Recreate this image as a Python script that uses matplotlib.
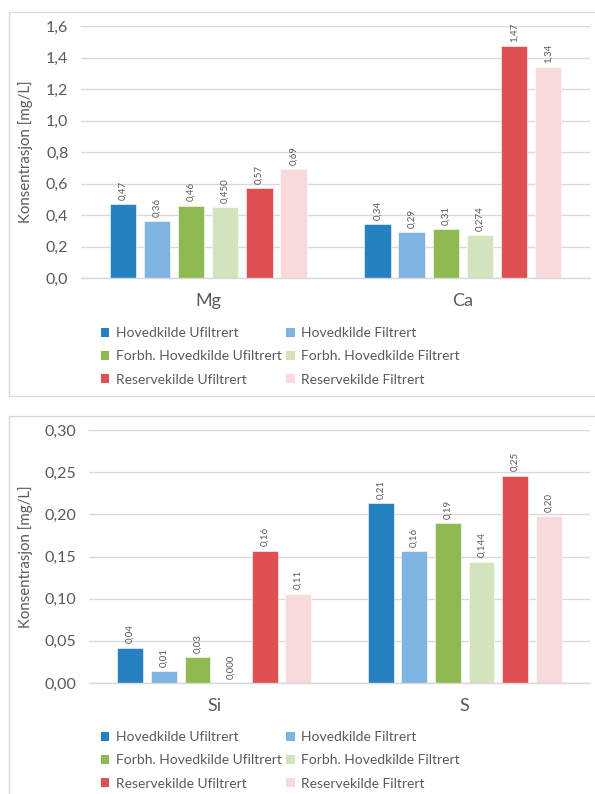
import matplotlib
matplotlib.use("Agg")
import matplotlib.pyplot as plt
from matplotlib.patches import Patch, Rectangle
from matplotlib.ticker import FuncFormatter, MultipleLocator

plt.rcParams['font.family'] = ['Lato', 'DejaVu Sans']

# Series (sampling points) and colours
series = ["Hovedkilde Ufiltrert", "Hovedkilde Filtrert",
          "Forbh. Hovedkilde Ufiltrert", "Forbh. Hovedkilde Filtrert",
          "Reservekilde Ufiltrert", "Reservekilde Filtrert"]
colors = ["#2581C0", "#7EB3E2", "#8FBA51", "#D3E4BC", "#DE5051", "#F8DADC"]

# Upper chart: Mg and Ca
elements_top = ["Mg", "Ca"]
mg_values = [0.47, 0.36, 0.46, 0.450, 0.57, 0.69]
ca_values = [0.34, 0.29, 0.31, 0.274, 1.47, 1.34]
mg_decimals = [2, 2, 2, 3, 2, 2]
ca_decimals = [2, 2, 2, 3, 2, 2]

# Lower chart: Si and S
elements_bottom = ["Si", "S"]
si_values = [0.042, 0.014, 0.031, 0.000, 0.157, 0.106]
s_values = [0.213, 0.156, 0.190, 0.144, 0.246, 0.198]
si_decimals = [2, 2, 2, 3, 2, 2]
s_decimals = [2, 2, 2, 3, 2, 2]

W, H = 595, 794
TEXT = "#595959"
GRID = "#D9D9D9"

fig = plt.figure(figsize=(W / 100, H / 100), dpi=100)


def fig_rect(x0, y0, x1, y1):
    return [x0 / W, 1 - y1 / H, (x1 - x0) / W, (y1 - y0) / H]


def comma(v, d):
    return f"{v:.{d}f}".replace(".", ",")


def draw_panel(rect, cats, data, decimals, ymax, ystep, ydec, box, legend_top):
    # chart frame
    fig.patches.append(Rectangle((box[0] / W, 1 - box[3] / H),
                                 (box[2] - box[0]) / W, (box[3] - box[1]) / H,
                                 transform=fig.transFigure, fill=False,
                                 edgecolor=GRID, linewidth=1.0, clip_on=False))
    ax = fig.add_axes(fig_rect(*rect))
    pitch, width = 0.134, 0.103
    n = len(series)
    for i in range(n):
        xs = [c + (i - (n - 1) / 2) * pitch for c in range(len(cats))]
        vals = [data[c][i] for c in range(len(cats))]
        bars = ax.bar(xs, vals, width=width, color=colors[i],
                      edgecolor="white", linewidth=0.4, zorder=3)
        for b, v, c in zip(bars, vals, range(len(cats))):
            ax.annotate(comma(v, decimals[c][i]),
                        (b.get_x() + b.get_width() / 2, v),
                        xytext=(0, 3), textcoords="offset points",
                        rotation=90, ha="center", va="bottom",
                        fontsize=7, color=TEXT)
    ax.set_xlim(-0.5, len(cats) - 0.5)
    ax.set_ylim(0, ymax)
    ax.yaxis.set_major_locator(MultipleLocator(ystep))
    ax.yaxis.set_major_formatter(FuncFormatter(lambda v, p: comma(v, ydec)))
    ax.set_xticks(range(len(cats)))
    ax.set_xticklabels(cats, fontsize=13, color=TEXT)
    ax.tick_params(axis="y", length=0, pad=9, labelsize=11.5, labelcolor=TEXT)
    ax.tick_params(axis="x", length=0, pad=11)
    ax.grid(axis="y", color=GRID, linewidth=1.0, zorder=0)
    for s in ["top", "right", "left"]:
        ax.spines[s].set_visible(False)
    ax.spines["bottom"].set_color(GRID)
    ax.spines["bottom"].set_linewidth(1.0)
    ax.spines["bottom"].set_zorder(4)
    ax.set_ylabel("Konsentrasjon [mg/L]", fontsize=10.8, color=TEXT)
    ax.yaxis.set_label_coords((33 - rect[0]) / (rect[2] - rect[0]), 0.5)

    handles = [Patch(facecolor=c, edgecolor="none") for c in colors]
    order = [0, 2, 4, 1, 3, 5]
    fig.legend([handles[k] for k in order], [series[k] for k in order],
               ncol=2, loc="upper left",
               bbox_to_anchor=(101 / W, 1 - legend_top / H),
               frameon=False, fontsize=10, labelcolor=TEXT,
               handlelength=0.6, handleheight=0.6, handletextpad=0.45,
               columnspacing=0.35, labelspacing=0.82, borderpad=0,
               borderaxespad=0)
    return ax


draw_panel((81, 26, 590, 278), elements_top, [mg_values, ca_values],
           [mg_decimals, ca_decimals], 1.6, 0.2, 1,
           (9, 12, 602, 396), 327)
draw_panel((89, 430, 590, 683), elements_bottom, [si_values, s_values],
           [si_decimals, s_decimals], 0.30, 0.05, 2,
           (9, 416, 602, 800), 731)

fig.savefig("out.png", dpi=100)
